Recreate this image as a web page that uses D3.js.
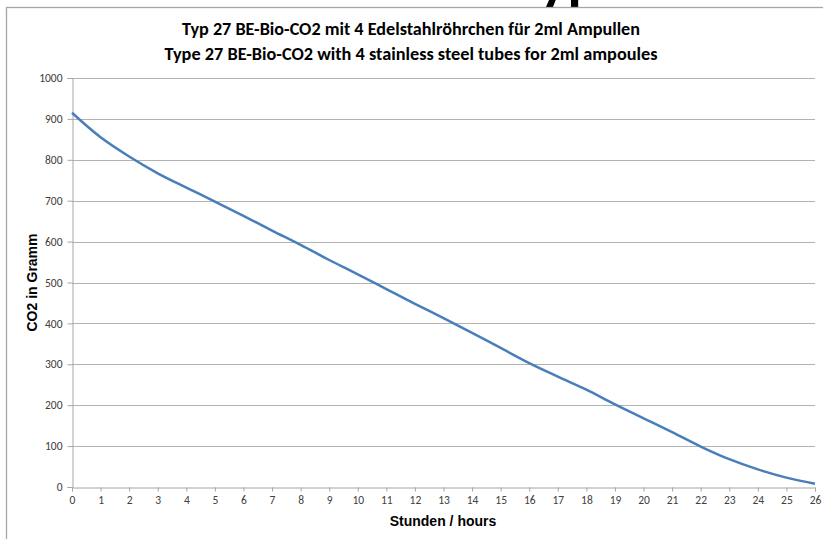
<!DOCTYPE html>
<html>
<head>
<meta charset="utf-8">
<script src="https://cdn.jsdelivr.net/npm/d3@7"></script>
<style>
  body { margin: 0; background: #fff; }
  svg { display: block; }
</style>
</head>
<body>
<div class="container"></div>
<script>
const hours = d3.range(0, 27)
const co2 = [915, 855, 808, 767, 732, 698, 663, 627, 592, 555, 520, 484, 448, 413, 377, 340, 303, 270, 238, 202, 168, 134, 99, 68, 43, 23, 8]
const yTicks = [0, 100, 200, 300, 400, 500, 600, 700, 800, 900, 1000]
const titleDe = 'Typ 27 BE-Bio-CO2 mit 4 Edelstahlröhrchen für 2ml Ampullen'
const titleEn = 'Type 27 BE-Bio-CO2 with 4 stainless steel tubes for 2ml ampoules'

const width = 823
const height = 539
const plot = {left: 72, right: 815, top: 78, bottom: 487}

const svg = d3.select('.container')
    .append('svg')
    .attr('width', width)
    .attr('height', height)

// big heading of the page above, cut off at the top edge
svg.append('text')
    .attr('x', 513)
    .attr('y', -1)
    .style('font-family', 'Carlito, "Open Sans", sans-serif')
    .style('font-weight', 'bold')
    .style('font-size', '58px')
    .attr('fill', '#000')
    .text('Typ')

// chart frame
svg.append('rect')
    .attr('x', 6.5)
    .attr('y', 7.5)
    .attr('width', 900)
    .attr('height', 600)
    .attr('fill', 'none')
    .attr('stroke', '#a6a6a6')
    .attr('stroke-width', 1.3)

const x = d3.scaleLinear().domain([0, 26]).range([plot.left, plot.right])
const y = d3.scaleLinear().domain([0, 1000]).range([plot.bottom, plot.top])

// gridlines
svg.append('g')
    .selectAll('line')
    .data(yTicks.filter(d => d > 0))
    .join('line')
    .attr('x1', plot.left)
    .attr('x2', plot.right)
    .attr('y1', d => Math.round(y(d)) + 0.5)
    .attr('y2', d => Math.round(y(d)) + 0.5)
    .attr('stroke', '#b3b3b3')
    .attr('stroke-width', 1)

const tickFont = 'Carlito, "Open Sans", sans-serif'

const yAxis = svg.append('g')
    .attr('transform', `translate(${plot.left + 0.5},0)`)
    .call(d3.axisLeft(y).tickValues(yTicks).tickFormat(d3.format('d')).tickSize(5).tickPadding(5))
yAxis.select('.domain').attr('stroke', '#a6a6a6')
yAxis.selectAll('.tick line').attr('stroke', '#a6a6a6')
yAxis.selectAll('text')
    .style('font-family', tickFont)
    .style('font-size', '11.5px')
    .attr('fill', '#404040')

const xAxis = svg.append('g')
    .attr('transform', `translate(0,${plot.bottom + 0.5})`)
    .call(d3.axisBottom(x).tickValues(hours).tickFormat(d3.format('d')).tickSize(4).tickPadding(4))
xAxis.select('.domain').attr('stroke', '#a6a6a6')
xAxis.selectAll('.tick line').attr('stroke', '#a6a6a6')
xAxis.selectAll('text')
    .style('font-family', tickFont)
    .style('font-size', '11.5px')
    .attr('fill', '#404040')

// series
const line = d3.line()
    .x((d, i) => x(hours[i]))
    .y(d => y(d))
    .curve(d3.curveCatmullRom.alpha(0.5))

svg.append('path')
    .datum(co2)
    .attr('d', line)
    .attr('fill', 'none')
    .attr('stroke', '#4a7ebb')
    .attr('stroke-width', 2.5)

// titles
const titleFont = 'Carlito, "Open Sans", sans-serif'
svg.append('text')
    .attr('x', 411)
    .attr('y', 35)
    .attr('text-anchor', 'middle')
    .attr('textLength', 458)
    .attr('lengthAdjust', 'spacingAndGlyphs')
    .style('font-family', titleFont)
    .style('font-weight', 'bold')
    .style('font-size', '19px')
    .text(titleDe)

svg.append('text')
    .attr('x', 411)
    .attr('y', 60)
    .attr('text-anchor', 'middle')
    .attr('textLength', 493)
    .attr('lengthAdjust', 'spacingAndGlyphs')
    .style('font-family', titleFont)
    .style('font-weight', 'bold')
    .style('font-size', '19px')
    .text(titleEn)

svg.append('text')
    .attr('x', 443)
    .attr('y', 526)
    .attr('text-anchor', 'middle')
    .style('font-family', 'Arial, "Liberation Sans", sans-serif')
    .style('font-weight', 'bold')
    .style('font-size', '14px')
    .text('Stunden / hours')

svg.append('text')
    .attr('transform', `translate(37,${(plot.top + plot.bottom) / 2}) rotate(-90)`)
    .attr('text-anchor', 'middle')
    .style('font-family', 'Arial, "Liberation Sans", sans-serif')
    .style('font-weight', 'bold')
    .style('font-size', '14px')
    .text('CO2 in Gramm')
</script>
</body>
</html>
